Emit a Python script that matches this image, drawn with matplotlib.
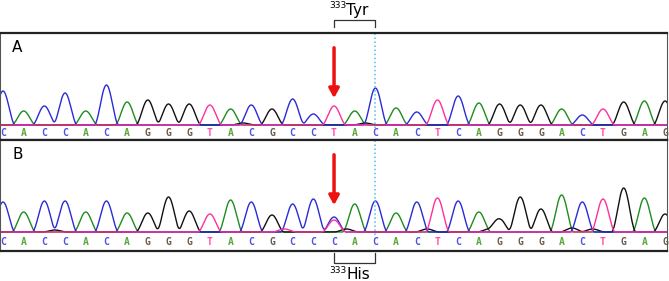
import numpy as np
import matplotlib
matplotlib.use('Agg')
import matplotlib.pyplot as plt

# base calls and peak heights
seq_a = 'CACCACAGGGTACGCCTACACTCAGGGACTGAG'
seq_b = 'CACCACAGGGTACGCCCACACTCAGGGACTGAG'
heights_a = [34, 14, 19, 32, 14, 40, 23, 25, 21, 21, 20, 16, 20, 16, 26, 11, 19,
             14, 37, 17, 13, 25, 29, 22, 21, 20, 20, 16, 10, 16, 23, 24, 24]
heights_b = [30, 20, 31, 31, 20, 31, 19, 19, 35, 21, 18, 32, 30, 17, 28, 33, 15,
             28, 31, 19, 30, 34, 31, 20, 13, 35, 23, 37, 30, 33, 44, 34, 18]
# small secondary peaks (position, base, height)
minor_b = [(16, 'T', 12), (16.6, 'G', 3), (20.5, 'G', 3), (23.5, 'G', 3),
           (27.5, 'G', 4), (28.5, 'G', 3), (13.6, 'T', 3), (2.5, 'G', 2)]
minor_a = [(17.5, 'G', 2), (11.6, 'G', 2)]

trace_col = {'A': '#1e8c1e', 'C': '#2b2bd6', 'G': '#111111', 'T': '#ff2f9e'}
letter_col = {'A': '#5aa83c', 'C': '#5050e8', 'G': '#6a5a4a', 'T': '#ff4fa8'}

W, H = 669, 281
fig = plt.figure(figsize=(W / 100, H / 100), dpi=100)

spacing = 20.69
x0 = 3
ax_w = 667


def peak(xs, c, h, w=0.6):
    d = np.abs(xs - c) / w
    return np.where(d < 1, h * np.cos(np.pi * d / 2) ** 2, 0.0)


def panel(top, bottom, base_y, seq, heights, minor, label):
    ax = fig.add_axes([0, (H - bottom) / H, ax_w / W, (bottom - top) / H])
    xs = np.linspace(-1, 34, 3000)
    for b in 'AGCT':
        y = np.zeros_like(xs)
        for i, (s, h) in enumerate(zip(seq, heights)):
            if s == b:
                y += peak(xs, i, h)
        for p, s, h in minor:
            if s == b:
                y += peak(xs, p, h)
        ax.plot(xs, y, color=trace_col[b], lw=1.0)
    for i, s in enumerate(seq):
        ax.text(i, -8 if label == 'A' else -10, s, ha='center', va='center',
                fontsize=7, family='DejaVu Sans Mono', fontweight='bold',
                color=letter_col[s])
    ax.set_xlim(-x0 / spacing, (ax_w - x0) / spacing)
    ax.set_ylim(-(bottom - base_y), base_y - top)
    ax.set_xticks([])
    ax.set_yticks([])
    for k in ['top', 'bottom']:
        ax.spines[k].set_linewidth(1.6)
        ax.spines[k].set_color('#222222')
    for k in ['left', 'right']:
        ax.spines[k].set_linewidth(0.8)
        ax.spines[k].set_color('#555555')
    ax.text(0.018, 0.86 if label == 'A' else 0.87, label, transform=ax.transAxes,
            fontsize=11, va='center', ha='left')
    # cyan marker at codon end
    ax.plot([18, 18], [-3, base_y - top], color='#4cbcf0', lw=1.1, ls=':')
    # red arrow at variant
    ax.annotate('', xy=(16, 24), xytext=(16, 80),
                arrowprops=dict(arrowstyle='-|>,head_width=0.3,head_length=0.55',
                                color='#ee1111', lw=2.5))
    return ax


axA = panel(33, 140, 125, seq_a, heights_a, minor_a, 'A')
axB = panel(140, 251, 232, seq_b, heights_b, minor_b, 'B')

# codon brackets
axA.plot([16, 16, 18, 18], [98, 105, 105, 98], color='#333333', lw=0.9, clip_on=False)
axA.text(16.58, 117, '333', ha='right', va='baseline', fontsize=6.5)
axA.text(16.58, 110, 'Tyr', ha='left', va='baseline', fontsize=11)
axB.plot([16, 16, 18, 18], [-21, -31, -31, -21], color='#333333', lw=0.9, clip_on=False)
axB.text(16.58, -41, '333', ha='right', va='baseline', fontsize=6.5)
axB.text(16.58, -47, 'His', ha='left', va='baseline', fontsize=11)

fig.savefig('out.png', dpi=100)
